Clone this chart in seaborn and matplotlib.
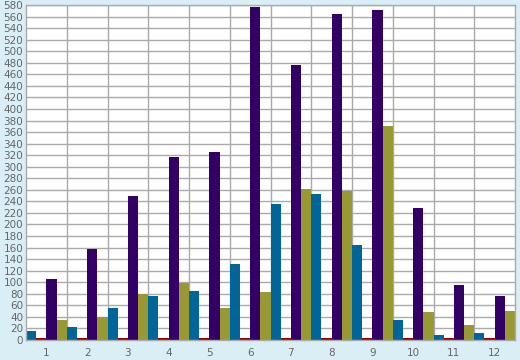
import pandas as pd
import matplotlib.pyplot as plt
import seaborn as sns

# values
months = ["1", "2", "3", "4", "5", "6", "7", "8", "9", "10", "11", "12"]
series_a = [16, 22, 55, 76, 84, 131, 236, 253, 164, 34, 9, 12]        # blue
series_b = [3, 3, 3, 3, 3, 3, 3, 3, 3, 3, 3, 3]                      # red
series_c = [105, 157, 250, 316, 325, 577, 476, 565, 572, 228, 96, 76]  # purple
series_d = [35, 40, 80, 98, 55, 83, 261, 258, 371, 48, 26, 51]        # olive

y_ticks = list(range(0, 581, 20))

names = ["A", "B", "C", "D"]
colors = ["#006699", "#990000", "#330066", "#999933"]

df = pd.DataFrame({
    "month": months * 4,
    "value": series_a + series_b + series_c + series_d,
    "series": [n for n in names for _ in months],
})

sns.set_style("white")
plt.rcParams["font.family"] = ["DejaVu Sans"]

fig = plt.figure(figsize=(5.2, 3.6), dpi=100, facecolor="#DAEEF5")
ax = fig.add_axes([26 / 520, 20 / 360, 489 / 520, 335 / 360])
ax.set_facecolor("white")

sns.barplot(data=df, x="month", y="value", hue="series", hue_order=names,
            palette=colors, width=1.0, dodge=True, saturation=1,
            linewidth=0, legend=False, ax=ax)

ax.set_xlim(-0.5, 11.5)
ax.set_ylim(0, 580)
ax.set_yticks(y_ticks)
ax.set_xticks(range(12))
ax.set_xticklabels(months)
ax.set_xticks([i + 0.5 for i in range(11)], minor=True)

ax.grid(True, axis="y", color="#AAAAAA", linewidth=1)
ax.grid(True, axis="x", which="minor", color="#AAAAAA", linewidth=1)
ax.set_axisbelow(True)

ax.tick_params(axis="x", which="major", length=0, pad=6, labelsize=7.5, labelcolor="#666666")
ax.tick_params(axis="x", which="minor", length=5, color="#888888", direction="out")
ax.tick_params(axis="y", length=0, pad=2, labelsize=7.5, labelcolor="#666666")

for s in ax.spines.values():
    s.set_color("#AAAAAA")
    s.set_linewidth(1)

ax.set_xlabel("")
ax.set_ylabel("")

fig.savefig("out.png", dpi=100, facecolor=fig.get_facecolor())
